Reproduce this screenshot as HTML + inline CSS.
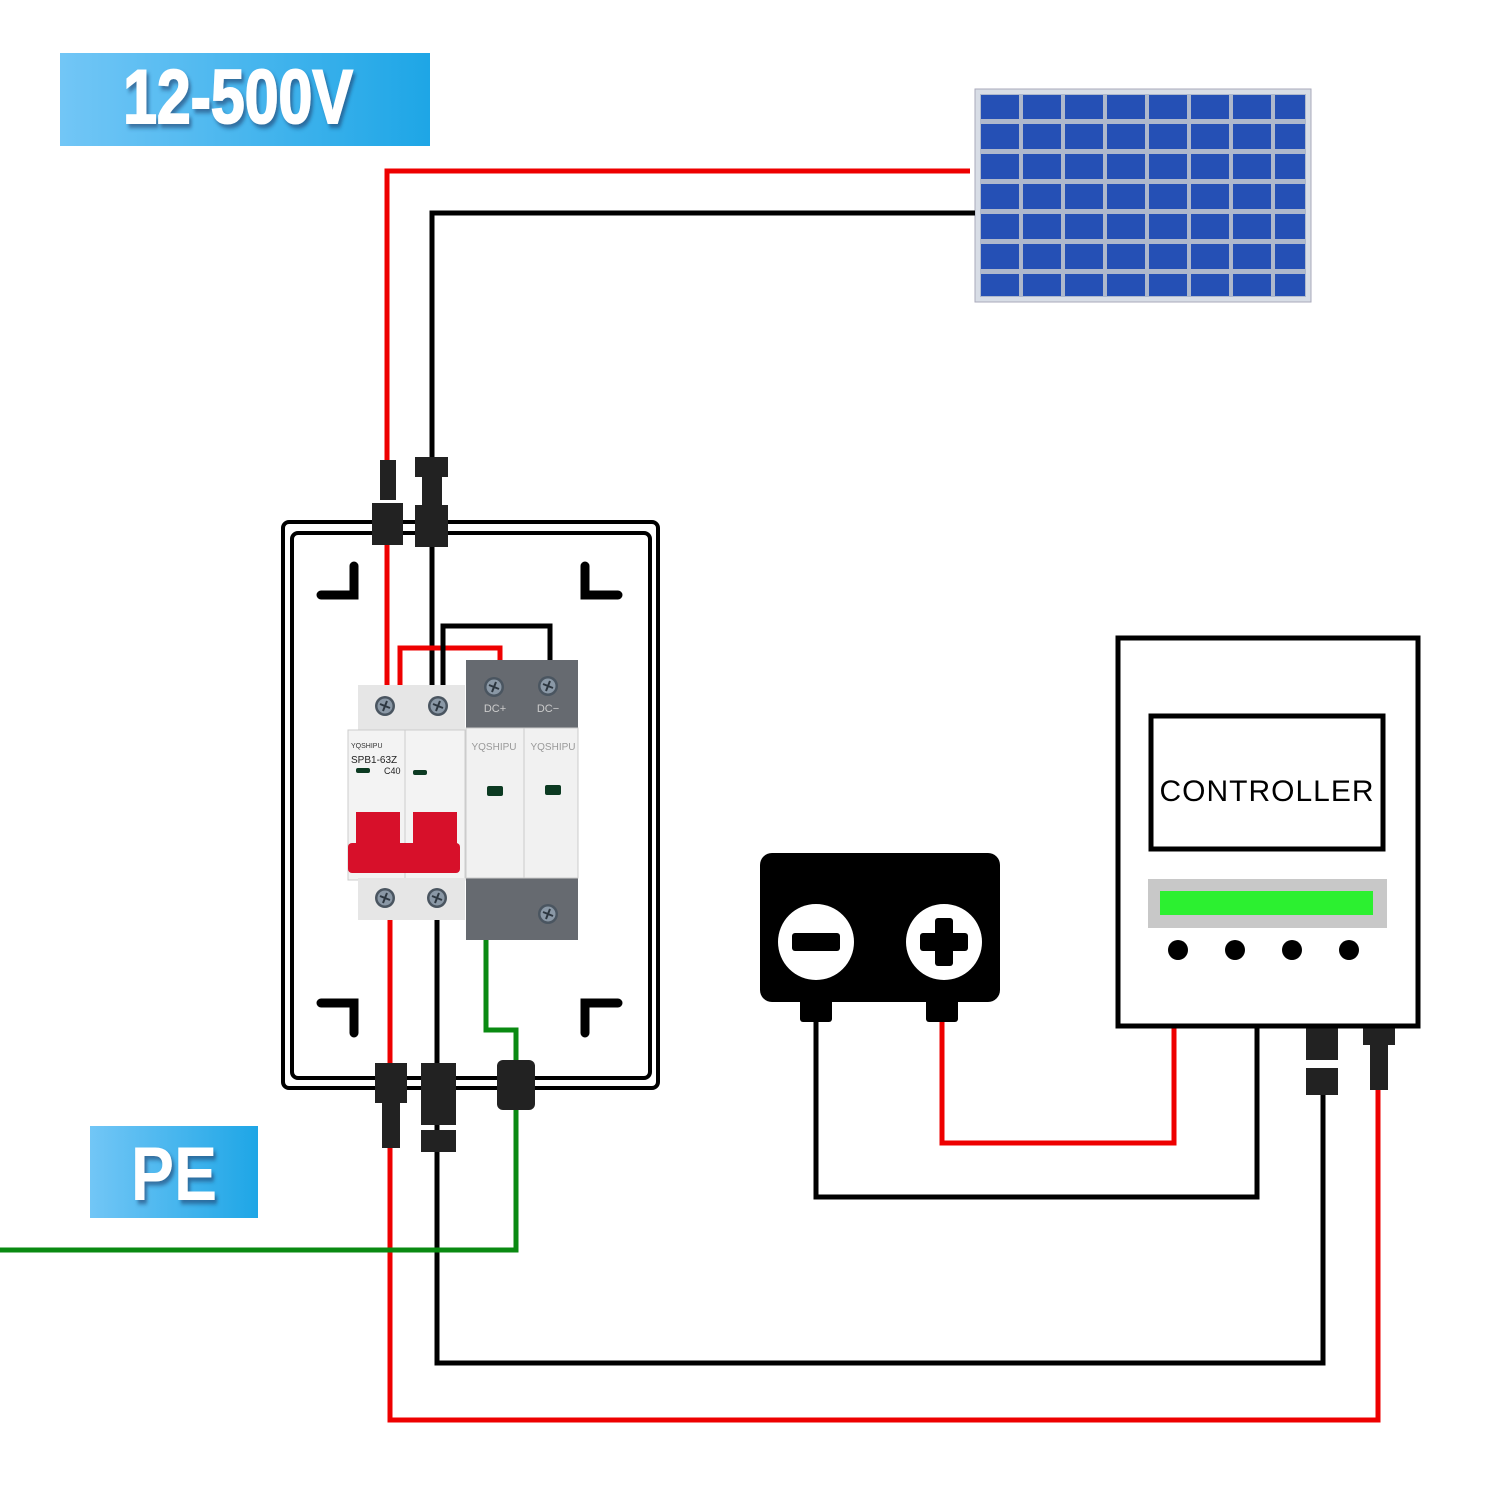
<!DOCTYPE html>
<html><head><meta charset="utf-8"><style>html,body{margin:0;padding:0;background:#fff}svg{display:block}</style></head>
<body>
<svg width="1500" height="1500" viewBox="0 0 1500 1500" xmlns="http://www.w3.org/2000/svg">
<defs>
<linearGradient id="bl" x1="0" x2="1"><stop offset="0" stop-color="#72c6f6"/><stop offset="1" stop-color="#1ea6e6"/></linearGradient>
<filter id="sh" x="-10%" y="-10%" width="130%" height="140%"><feDropShadow dx="3" dy="4" stdDeviation="2" flood-color="#1a3a6a" flood-opacity="0.6"/></filter>
<g id="screw"><circle r="10" fill="#4a5560"/><circle r="7.5" fill="#8a98a6"/><path d="M-5,-2 L5,2 M-2,5 L2,-5" stroke="#2d3740" stroke-width="2"/></g>
</defs>
<!-- labels -->
<rect x="60" y="53" width="370" height="93" fill="url(#bl)"/>
<text x="238" y="123" text-anchor="middle" font-family="Liberation Sans, sans-serif" font-weight="bold" font-size="76" fill="#fff" filter="url(#sh)" transform="translate(238 0) scale(0.8 1) translate(-238 0)" stroke="#fff" stroke-width="2">12-500V</text>
<rect x="90" y="1126" width="168" height="92" fill="url(#bl)"/>
<text x="174" y="1200" text-anchor="middle" font-family="Liberation Sans, sans-serif" font-weight="bold" font-size="76" fill="#fff" filter="url(#sh)" transform="translate(174 0) scale(0.85 1) translate(-174 0)">PE</text>
<!-- solar panel -->
<rect x="975" y="89" width="336" height="213" fill="#d8dde6" stroke="#aab" stroke-width="1"/>
<rect x="980" y="94" width="326" height="203" fill="#aeb8cc"/>
<!-- wires top -->
<g fill="none" stroke-width="5">
<path d="M970,171 H387 V470" stroke="#e00"/>
<path d="M975,213 H432 V470" stroke="#000"/>
<path d="M387,540 V690" stroke="#e00"/>
<path d="M432,540 V690" stroke="#000"/>
<path d="M400,690 V648 H500 V665" stroke="#e00"/>
<path d="M443,690 V626 H550 V665" stroke="#000"/>
<path d="M390,915 V1420 H1378 V1090" stroke="#e00"/>
<path d="M437,915 V1363 H1323 V1090" stroke="#000"/>
<path d="M486,938 V1030 H516 V1250 H0" stroke="#0a8a12"/>
<path d="M816,1010 V1197 H1257 V1027" stroke="#000"/>
<path d="M942,1010 V1143 H1174 V1027" stroke="#e00"/>
</g>
<!-- enclosure -->
<rect x="283" y="522" width="375" height="566" rx="6" fill="none" stroke="#000" stroke-width="4"/>
<rect x="292" y="533" width="358" height="545" rx="6" fill="none" stroke="#000" stroke-width="4"/>
<g fill="none" stroke="#000" stroke-width="9" stroke-linecap="round">
<path d="M354,566 V595 H321"/><path d="M585,566 V595 H618"/>
<path d="M321,1003 H354 V1033"/><path d="M585,1033 V1003 H618"/>
</g>
<!-- connectors -->
<g fill="#222">
<rect x="380" y="460" width="16" height="40"/><rect x="372" y="503" width="31" height="42"/>
<rect x="415" y="457" width="33" height="20"/><rect x="422" y="477" width="20" height="30"/><rect x="415" y="505" width="33" height="42"/>
<rect x="375" y="1063" width="32" height="40"/><rect x="382" y="1103" width="18" height="45"/>
<rect x="421" y="1063" width="35" height="62"/><rect x="421" y="1130" width="35" height="22"/>
<rect x="497" y="1060" width="38" height="50" rx="6"/>
<rect x="1306" y="1005" width="32" height="55"/><rect x="1306" y="1068" width="32" height="27"/>
<rect x="1363" y="1005" width="32" height="40"/><rect x="1370" y="1045" width="18" height="45"/>
</g>
<!-- SPD -->
<rect x="466" y="660" width="112" height="280" fill="#666a70"/>
<rect x="466" y="728" width="112" height="150" fill="#f1f1f1" stroke="#ccc"/>
<line x1="524" y1="728" x2="524" y2="878" stroke="#ccc"/>
<use href="#screw" x="494" y="687"/><use href="#screw" x="548" y="686"/><use href="#screw" x="548" y="914"/>
<text x="495" y="712" font-family="Liberation Sans, sans-serif" font-size="11" fill="#ccc" text-anchor="middle">DC+</text>
<text x="548" y="712" font-family="Liberation Sans, sans-serif" font-size="11" fill="#ccc" text-anchor="middle">DC−</text>
<text x="494" y="750" font-family="Liberation Sans, sans-serif" font-size="10" fill="#999" text-anchor="middle">YQSHIPU</text>
<text x="553" y="750" font-family="Liberation Sans, sans-serif" font-size="10" fill="#999" text-anchor="middle">YQSHIPU</text>
<rect x="487" y="786" width="16" height="10" rx="2" fill="#0c3a22"/><rect x="545" y="785" width="16" height="10" rx="2" fill="#0c3a22"/>
<!-- breaker -->
<rect x="358" y="685" width="107" height="45" fill="#e6e6e6"/>
<rect x="348" y="730" width="117" height="150" fill="#f3f3f3" stroke="#ccc"/>
<line x1="405" y1="730" x2="405" y2="880" stroke="#ccc"/>
<rect x="358" y="878" width="107" height="42" fill="#e6e6e6"/>
<use href="#screw" x="385" y="706"/><use href="#screw" x="438" y="706"/><use href="#screw" x="385" y="898"/><use href="#screw" x="437" y="898"/>
<text x="351" y="748" font-family="Liberation Sans, sans-serif" font-size="7" fill="#333">YQSHIPU</text>
<text x="351" y="763" font-family="Liberation Sans, sans-serif" font-size="10" fill="#222">SPB1-63Z</text>
<text x="384" y="774" font-family="Liberation Sans, sans-serif" font-size="9" fill="#222">C40</text>
<rect x="356" y="768" width="14" height="5" rx="2" fill="#0c3a22"/><rect x="413" y="770" width="14" height="5" rx="2" fill="#0c3a22"/>
<rect x="356" y="812" width="44" height="40" fill="#d7102a"/><rect x="413" y="812" width="44" height="40" fill="#d7102a"/>
<rect x="348" y="843" width="112" height="30" rx="4" fill="#d7102a"/>
<!-- battery -->
<rect x="760" y="853" width="240" height="149" rx="12" fill="#000"/>
<rect x="800" y="995" width="32" height="27" rx="3" fill="#000"/><rect x="926" y="995" width="32" height="27" rx="3" fill="#000"/>
<circle cx="816" cy="942" r="38" fill="#fff"/><circle cx="944" cy="942" r="38" fill="#fff"/>
<rect x="792" y="933" width="48" height="18" rx="3" fill="#000"/>
<rect x="920" y="933" width="48" height="18" rx="3" fill="#000"/><rect x="935" y="918" width="18" height="48" rx="3" fill="#000"/>
<!-- controller -->
<rect x="1118" y="638" width="300" height="388" fill="#fff" stroke="#000" stroke-width="5"/>
<rect x="1151" y="716" width="232" height="133" fill="none" stroke="#000" stroke-width="5"/>
<text x="1267" y="801" text-anchor="middle" font-family="Liberation Sans, sans-serif" font-size="30" letter-spacing="1" fill="#000">CONTROLLER</text>
<rect x="1148" y="879" width="239" height="49" fill="#c8c8c8"/>
<rect x="1160" y="891" width="213" height="24" fill="#2cf030"/>
<g fill="#000"><circle cx="1178" cy="950" r="10"/><circle cx="1235" cy="950" r="10"/><circle cx="1292" cy="950" r="10"/><circle cx="1349" cy="950" r="10"/></g>
<g fill="#2550b5">
<rect x="981" y="95" width="38" height="24"/><rect x="1023" y="95" width="38" height="24"/><rect x="1065" y="95" width="38" height="24"/><rect x="1107" y="95" width="38" height="24"/><rect x="1149" y="95" width="38" height="24"/><rect x="1191" y="95" width="38" height="24"/><rect x="1233" y="95" width="38" height="24"/><rect x="1275" y="95" width="30" height="24"/>
<rect x="981" y="124" width="38" height="25"/><rect x="1023" y="124" width="38" height="25"/><rect x="1065" y="124" width="38" height="25"/><rect x="1107" y="124" width="38" height="25"/><rect x="1149" y="124" width="38" height="25"/><rect x="1191" y="124" width="38" height="25"/><rect x="1233" y="124" width="38" height="25"/><rect x="1275" y="124" width="30" height="25"/>
<rect x="981" y="154" width="38" height="25"/><rect x="1023" y="154" width="38" height="25"/><rect x="1065" y="154" width="38" height="25"/><rect x="1107" y="154" width="38" height="25"/><rect x="1149" y="154" width="38" height="25"/><rect x="1191" y="154" width="38" height="25"/><rect x="1233" y="154" width="38" height="25"/><rect x="1275" y="154" width="30" height="25"/>
<rect x="981" y="184" width="38" height="25"/><rect x="1023" y="184" width="38" height="25"/><rect x="1065" y="184" width="38" height="25"/><rect x="1107" y="184" width="38" height="25"/><rect x="1149" y="184" width="38" height="25"/><rect x="1191" y="184" width="38" height="25"/><rect x="1233" y="184" width="38" height="25"/><rect x="1275" y="184" width="30" height="25"/>
<rect x="981" y="214" width="38" height="25"/><rect x="1023" y="214" width="38" height="25"/><rect x="1065" y="214" width="38" height="25"/><rect x="1107" y="214" width="38" height="25"/><rect x="1149" y="214" width="38" height="25"/><rect x="1191" y="214" width="38" height="25"/><rect x="1233" y="214" width="38" height="25"/><rect x="1275" y="214" width="30" height="25"/>
<rect x="981" y="244" width="38" height="25"/><rect x="1023" y="244" width="38" height="25"/><rect x="1065" y="244" width="38" height="25"/><rect x="1107" y="244" width="38" height="25"/><rect x="1149" y="244" width="38" height="25"/><rect x="1191" y="244" width="38" height="25"/><rect x="1233" y="244" width="38" height="25"/><rect x="1275" y="244" width="30" height="25"/>
<rect x="981" y="274" width="38" height="22"/><rect x="1023" y="274" width="38" height="22"/><rect x="1065" y="274" width="38" height="22"/><rect x="1107" y="274" width="38" height="22"/><rect x="1149" y="274" width="38" height="22"/><rect x="1191" y="274" width="38" height="22"/><rect x="1233" y="274" width="38" height="22"/><rect x="1275" y="274" width="30" height="22"/>
</g>
</svg>
</body></html>
